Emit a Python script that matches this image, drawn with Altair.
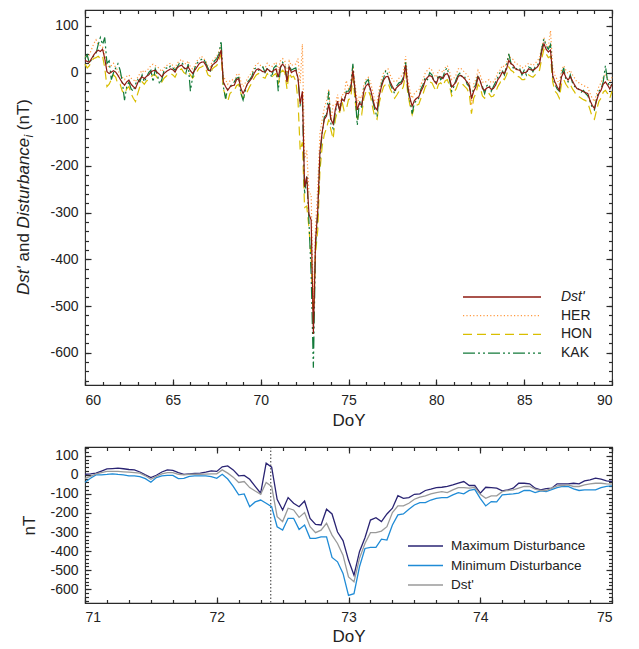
import altair as alt
import pandas as pd

# ---------------- upper panel: 3-hourly samples, DoY 60-90 ----------------
TOP_START = 60.0
TOP_STEP = 0.125

dst_top = [
    26, 24, 22, 30, 38, 44, 48, 45,
    50, 30, 2, -2, 1, 4, 1, -6,
    -14, -22, -27, -20, -16, -25, -30, -34,
    -22, -14, -9, -13, -8, -5, 1, 4,
    5, 0, -4, -9, -2, 2, 5, 8,
    6, 1, 10, 14, 16, 10, 8, 12,
    4, -2, 5, 12, 19, 22, 23, 16,
    5, 4, 16, 20, 24, 34, 48, -20,
    -30, -38, -31, -28, -27, -15, -13, -34,
    -45, -35, -24, -18, -12, -2, 6, 8,
    5, 2, 1, 8, 4, 1, 5, 8,
    -10, 12, 18, 12, -20, 12, 0, 3,
    5, -12, -67, -40, -245, -223, -303, -316,
    -560, -360, -295, -170, -128, -100, -93, -67,
    -100, -110, -79, -61, -82, -56, -61, -44,
    -45, -38, 5, -40, -80, -65, -70, -40,
    -28, -24, -35, -55, -74, -80, -50, -30,
    -16, -9, -8, -20, -30, -38, -32, -27,
    -24, -15, 16, -30, -55, -72, -60, -55,
    -52, -40, -31, -16, -10, -6, -9, -18,
    -24, -10, -9, -13, -4, -2, -12, -31,
    -26, -20, -8, -6, -9, -14, -20, -27,
    -56, -40, -31, -9, -18, -34, -38, -33,
    -31, -36, -34, -27, -15, -9, 1, -2,
    8, 26, 19, 16, 8, 6, 5, -2,
    0, 1, 8, 6, 5, 8, 12, 19,
    45, 62, 50, 44, 48, -6, -20, -30,
    -38, -9, 1, -10, -16, -9, -18, -27,
    -34, -36, -38, -41, -43, -45, -60, -70,
    -77, -60, -45, -38, -25, -20, -27, -35,
    -25,
]

her_top = [
    35, 30, 38, 50, 62, 70, 60, 58,
    55, 40, 15, 12, 15, 20, 10, 5,
    -5, -10, -15, -8, -5, -12, -15, -20,
    -10, -2, 5, 0, 5, 8, 15, 18,
    15, 12, 8, 2, 10, 14, 18, 20,
    15, 10, 20, 25, 28, 22, 18, 25,
    12, 8, 15, 25, 30, 35, 30, 25,
    15, 12, 25, 30, 35, 45, 58, -10,
    -15, -25, -18, -15, -20, -5, -2, -20,
    -30, -22, -12, -5, 0, 10, 18, 20,
    15, 12, 10, 20, 15, 12, 18, 22,
    5, 25, 30, 25, -5, 25, 15, 18,
    18, 30, -23, 61, -184, -167, -260, -260,
    -500, -330, -245, -130, -102, -75, -61, -35,
    -102, -70, -70, -47, -75, -47, -47, -17,
    -35, -25, 15, -25, -65, -50, -55, -25,
    -15, -10, -20, -40, -60, -65, -35, -15,
    0, 5, 8, -5, -15, -20, -18, -12,
    -8, 0, 35, -15, -40, -55, -45, -40,
    -38, -25, -15, 0, 5, 10, 5, -5,
    -10, 5, 5, 0, 10, 15, 2, -15,
    -12, -5, 8, 10, 5, 0, -5, -12,
    -70, -25, -15, 5, -5, -20, -22, -18,
    -15, -22, -20, -12, 0, 5, 15, 12,
    20, 38, 30, 28, 20, 18, 15, 10,
    12, 15, 20, 18, 15, 20, 25, 32,
    55, 75, 60, 55, 90, 10, -5, -15,
    -25, 5, 15, 5, -2, 5, -5, -12,
    -20, -22, -25, -28, -30, -32, -45, -55,
    -62, -45, -30, -22, -10, -5, -12, -20,
    -10,
]

hon_top = [
    18, 10, 15, 25, 30, 32, 35, 30,
    35, 10, -30, -25, -15, -5, -10, -25,
    -25, -40, -45, -35, -30, -45, -55, -62,
    -45, -30, -20, -25, -18, -15, -10, -5,
    -5, -12, -15, -20, -12, -8, -3, -2,
    -5, -10, 0, 5, 8, 0, -3, 2,
    -5, -12, -5, 2, 10, 12, 15, 8,
    -5, -8, 8, 12, 15, 25, 40, -35,
    -50, -62, -45, -40, -38, -28, -25, -45,
    -55, -50, -40, -30, -22, -12, -5, -2,
    -5, -10, -12, -2, -8, -10, -5, -2,
    -25, 0, 5, 0, -35, 0, -10, -8,
    -18, -60, -167, -149, -289, -286, -333, -400,
    -540, -386, -337, -210, -158, -132, -119, -100,
    -123, -142, -100, -82, -85, -61, -82, -79,
    -58, -55, -10, -60, -100, -85, -90, -55,
    -40, -38, -50, -75, -95, -100, -65, -45,
    -30, -25, -22, -35, -45, -55, -48, -40,
    -40, -30, 0, -45, -70, -90, -75, -70,
    -68, -55, -45, -30, -25, -20, -22, -32,
    -40, -25, -22, -28, -18, -15, -28, -50,
    -42, -35, -22, -20, -25, -30, -35, -45,
    -88, -55, -45, -25, -32, -50, -55, -48,
    -45, -52, -50, -42, -30, -22, -12, -15,
    -5, 12, 5, 2, -5, -8, -10, -15,
    -15, -12, -5, -8, -10, -5, 0, 5,
    30, 50, 40, 32, 35, -20, -40, -45,
    -55, -25, -15, -25, -32, -25, -35, -42,
    -50, -52, -55, -58, -60, -65, -80, -95,
    -100, -80, -62, -55, -42, -38, -45, -55,
    -40,
]

kak_top = [
    30, 38, 20, 28, 36, 40, 60, 75,
    60, 75, 20, 25, -15, 0, 10, 19,
    5, -20, -59, -30, -20, -35, -40, -25,
    -15, -20, -5, -20, -10, 0, 5, -20,
    8, -5, -25, -15, 5, 10, 8, 15,
    10, 5, 12, 20, 22, 15, 0, 18,
    -40, -10, 10, 20, 25, 28, 30, 20,
    10, 0, 18, 25, 30, 40, 68, -30,
    -56, -35, -30, -25, -20, -12, -10, -45,
    -59, -40, -20, -15, -8, 8, 10, 5,
    8, 12, 0, 10, 5, -10, 10, 15,
    -40, 10, 22, 15, -15, 15, 5, 8,
    10, -12, -70, -60, -260, -220, -320, -433,
    -632, -370, -300, -180, -130, -95, -90, -40,
    -110, -120, -85, -65, -80, -58, -60, -40,
    -40, -30, 19, -45, -113, -60, -75, -35,
    -20, -15, -40, -60, -80, -95, -45, -25,
    -12, 5, -5, -25, -35, -45, -28, -22,
    -20, -10, 22, -35, -60, -88, -65, -60,
    -55, -35, -25, -10, -15, 0, -5, -20,
    -20, -5, -15, -10, 5, 10, -15, -40,
    -30, -15, -5, 0, -12, -10, -25, -30,
    -50, -35, -25, -5, -20, -30, -45, -28,
    -25, -40, -30, -20, -10, 0, 5, -5,
    15, 40, 20, 10, 12, 5, 8, -5,
    5, -5, 12, 10, 2, 12, 15, 25,
    50, 72, 58, 50, 60, -10, -25, -35,
    -40, -5, 10, -15, -20, -5, -22, -30,
    -30, -38, -42, -38, -45, -50, -62, -75,
    -80, -55, -40, -35, -20, 15, -20, -30,
    -25,
]

# ---------------- lower panel: hourly values, DoY 71-75 ----------------
BOT_START = 71.0
BOT_STEP = 1.0 / 24.0

max_dist = [
    3, 5, 9, 20, 31, 33, 35, 32, 28, 26,
    15, 0, -14, -2, 15, 26, 23, 12, 2, 5,
    8, 9, 14, 21, 18, 42, 47, 26, -5, -3,
    -23, -60, -96, 61, 40, -128, -184, -119, -149, -167,
    -137, -228, -260, -263, -180, -205, -300, -345, -447, -526,
    -403, -330, -237, -225, -245, -205, -175, -109, -123, -119,
    -102, -100, -82, -75, -67, -65, -61, -53, -44, -35,
    -56, -56, -96, -65, -67, -70, -84, -79, -70, -44,
    -44, -47, -70, -79, -72, -70, -47, -47, -47, -44,
    -47, -32, -26, -17, -23, -32, -35,
]

min_dist = [
    -39, -18, 0, 0, 2, 5, 2, 0, -5, -5,
    -9, -20, -39, -14, -5, -3, -3, -20, -18, -8,
    -5, -5, -5, -9, -18, 3, -22, -60, -105, -100,
    -167, -142, -132, -149, -167, -272, -289, -228, -228, -286,
    -263, -333, -333, -325, -325, -433, -456, -517, -632, -623,
    -482, -386, -380, -380, -337, -342, -263, -210, -205, -181,
    -158, -146, -146, -132, -123, -119, -119, -105, -93, -100,
    -82, -76, -123, -163, -140, -142, -105, -102, -100, -96,
    -82, -82, -93, -84, -88, -78, -67, -61, -61, -74,
    -82, -79, -79, -79, -67, -61, -58,
]

dst_bot = [
    -18, -8, 5, 12, 18, 18, 18, 16, 14, 12,
    9, -5, -23, -8, 5, 12, 12, 3, 0, 3,
    3, 3, 4, 5, 5, 26, 9, -12, -40, -35,
    -67, -85, -102, -40, -61, -219, -245, -175, -184, -223,
    -198, -272, -303, -290, -254, -316, -360, -421, -535, -561,
    -438, -360, -303, -303, -295, -272, -198, -163, -163, -149,
    -128, -117, -110, -100, -93, -88, -93, -79, -67, -67,
    -70, -66, -102, -123, -110, -110, -88, -82, -79, -70,
    -61, -61, -75, -82, -82, -70, -58, -56, -53, -61,
    -61, -53, -47, -44, -44, -47, -49,
]

SC_DOY = 72.41  # dotted marker line in lower panel

top_series = ["Dst'", "HER", "HON", "KAK"]
top_colors = ["#8E1B12", "#FF9A40", "#D9BE00", "#137A3A"]
top_dashes = [[1, 0], [1.2, 2.2], [9, 5], [12, 3, 2, 3, 2, 3]]

bot_series = ["Maximum Disturbance", "Minimum Disturbance", "Dst'"]
bot_colors = ["#2A2473", "#1F8BD6", "#9A9A9A"]
bot_widths = [1.3, 1.3, 2.2]

TXT = "#222222"
AXC = "#2a2a2a"
W = 527
H_TOP = 375
H_BOT = 156

# ---------------- tables ----------------
doy_top = [round(TOP_START + i * TOP_STEP, 4) for i in range(len(dst_top))]
draw_order_top = [("HON", hon_top), ("HER", her_top), ("KAK", kak_top), ("Dst'", dst_top)]
df_top = pd.concat(
    [pd.DataFrame({"doy": doy_top, "value": vals, "series": name}) for name, vals in draw_order_top],
    ignore_index=True,
)

doy_bot = [round(BOT_START + i * BOT_STEP, 5) for i in range(len(dst_bot))]
draw_order_bot = [("Minimum Disturbance", min_dist), ("Maximum Disturbance", max_dist), ("Dst'", dst_bot)]
df_bot = pd.concat(
    [pd.DataFrame({"doy": doy_bot, "value": vals, "series": name}) for name, vals in draw_order_bot],
    ignore_index=True,
)

xs_top = alt.Scale(domain=[60, 90], nice=False, zero=False)
ys_top = alt.Scale(domain=[-669, 134], nice=False, zero=False)
xs_bot = alt.Scale(domain=[71, 75], nice=False, zero=False)
ys_bot = alt.Scale(domain=[-672, 146], nice=False, zero=False)

HYPHEN = "'' + datum.value"


def tick_axis(orient, offset, values, size):
    return alt.Axis(orient=orient, offset=offset, values=values, ticks=True, tickSize=size,
                    tickColor=AXC, tickWidth=1.2, labels=False, domain=False, grid=False, title=None)


def ghost(data, xs, ys, xaxis=None, yaxis=None):
    return alt.Chart(data).mark_point(opacity=0, size=1).encode(
        x=alt.X("doy:Q", scale=xs, axis=xaxis),
        y=alt.Y("value:Q", scale=ys, axis=yaxis),
    )


def title_axis(text, ty, tx, italic, size, align="left"):
    return alt.Axis(orient="left", ticks=False, labels=False, domain=False, grid=False,
                    title=text, titleX=tx, titleY=ty, titleAngle=270, titleAlign=align,
                    titleBaseline="alphabetic", titleFontSize=size,
                    titleFontStyle="italic" if italic else "normal",
                    titleFontWeight="normal", titleColor=TXT)


def tick_layers(data, xs, ys, w, h, x_major, x_minor, y_major, y_minor):
    return [
        ghost(data, xs, ys, tick_axis("top", -h, x_minor, 3.5), tick_axis("right", -w, y_minor, 3.5)),
        ghost(data, xs, ys, tick_axis("top", -h, x_major, 6), tick_axis("right", -w, y_major, 6)),
        ghost(data, xs, ys, tick_axis("bottom", -h, x_minor, 3.5), tick_axis("left", -w, y_minor, 3.5)),
        ghost(data, xs, ys, tick_axis("bottom", -h, x_major, 6), tick_axis("left", -w, y_major, 6)),
    ]


# ---------------- upper panel ----------------
leg_top = alt.Legend(orient="none", legendX=377, legendY=280, title=None, symbolType="stroke",
                     symbolSize=6084, symbolStrokeWidth=1.3, clipHeight=14, labelOffset=19,
                     rowPadding=4.7, padding=0, labelFontSize=14, labelColor=TXT, labelLimit=300,
                     labelFontStyle={"expr": "datum.index === 0 ? 'italic' : 'normal'"})

lines_top = alt.Chart(df_top).mark_line(strokeWidth=1.2).encode(
    x=alt.X("doy:Q", scale=xs_top,
            axis=alt.Axis(orient="bottom", values=list(range(60, 91, 5)), labelExpr=HYPHEN,
                          ticks=False, tickSize=0, domain=False, grid=False, labelPadding=8,
                          labelFontSize=14, labelColor=TXT, title="DoY", titleFontSize=17,
                          titleFontWeight="normal", titlePadding=5, titleColor=TXT)),
    y=alt.Y("value:Q", scale=ys_top,
            axis=alt.Axis(orient="left", values=list(range(-600, 101, 100)), labelExpr=HYPHEN,
                          ticks=False, tickSize=0, domain=False, grid=False, labelPadding=7,
                          labelFontSize=14, labelColor=TXT, title=None)),
    color=alt.Color("series:N", scale=alt.Scale(domain=top_series, range=top_colors), legend=leg_top),
    strokeDash=alt.StrokeDash("series:N", scale=alt.Scale(domain=top_series, range=top_dashes),
                              legend=leg_top),
)

one_top = df_top.head(1)
top_ticks = tick_layers(one_top, xs_top, ys_top, W, H_TOP,
                        list(range(60, 91, 5)), list(range(60, 91)),
                        list(range(-600, 101, 100)), list(range(-660, 121, 20)))

TX = -57
top_titles = [
    ghost(one_top, xs_top, ys_top, None, title_axis("Dst'", 284.5, TX, True, 17)),
    ghost(one_top, xs_top, ys_top, None, title_axis("and", 251.0, TX, False, 17)),
    ghost(one_top, xs_top, ys_top, None, title_axis("Disturbance", 217.9, TX, True, 17)),
    ghost(one_top, xs_top, ys_top, None, title_axis("i", 127.0, TX + 4, True, 12)),
    ghost(one_top, xs_top, ys_top, None, title_axis("(nT)", 119.7, TX, False, 17)),
]

top = alt.layer(lines_top, *top_ticks, *top_titles).resolve_axis(
    x="independent", y="independent").properties(width=W, height=H_TOP)

# ---------------- lower panel ----------------
leg_bot = alt.Legend(orient="none", legendX=322, legendY=92, title=None, symbolType="stroke",
                     symbolSize=1225, symbolStrokeWidth=1.5, clipHeight=14, labelOffset=7,
                     rowPadding=5.5, padding=0, labelFontSize=13.5, labelColor=TXT, labelLimit=300)

lines_bot = alt.Chart(df_bot).mark_line().encode(
    x=alt.X("doy:Q", scale=xs_bot,
            axis=alt.Axis(orient="bottom", values=[71, 72, 73, 74, 75], labelExpr=HYPHEN,
                          ticks=False, tickSize=0, domain=False, grid=False, labelPadding=7,
                          labelFontSize=14, labelColor=TXT, title="DoY", titleFontSize=17,
                          titleFontWeight="normal", titlePadding=4, titleColor=TXT)),
    y=alt.Y("value:Q", scale=ys_bot,
            axis=alt.Axis(orient="left", values=list(range(-600, 101, 100)), labelExpr=HYPHEN,
                          ticks=False, tickSize=0, domain=False, grid=False, labelPadding=7,
                          labelFontSize=14, labelColor=TXT, title=None)),
    color=alt.Color("series:N", scale=alt.Scale(domain=bot_series, range=bot_colors), legend=leg_bot),
    strokeWidth=alt.StrokeWidth("series:N", scale=alt.Scale(domain=bot_series, range=bot_widths),
                                legend=None),
)

sc_rule = alt.Chart(pd.DataFrame({"doy": [SC_DOY]})).mark_rule(
    strokeDash=[1.5, 2], color="#333333", strokeWidth=1).encode(
    x=alt.X("doy:Q", scale=xs_bot, axis=None))

one_bot = df_bot.head(1)
bot_minor_x = [round(71 + k / 6.0, 5) for k in range(25)]
bot_ticks = tick_layers(one_bot, xs_bot, ys_bot, W, H_BOT,
                        [71, 72, 73, 74, 75], bot_minor_x,
                        list(range(-600, 101, 100)), list(range(-660, 141, 20)))
bot_title = ghost(one_bot, xs_bot, ys_bot, None, title_axis("nT", H_BOT / 2, -51, False, 17, "center"))

bottom = alt.layer(sc_rule, lines_bot, *bot_ticks, bot_title).resolve_axis(
    x="independent", y="independent").properties(width=W, height=H_BOT)

chart = alt.vconcat(top, bottom, spacing=16).resolve_scale(
    color="independent", strokeDash="independent", strokeWidth="independent"
).resolve_legend(
    color="independent", strokeDash="independent", strokeWidth="independent"
).properties(
    padding={"left": 5, "top": 0, "right": 5, "bottom": 0}
).configure(font="Liberation Sans").configure_view(stroke=AXC, strokeWidth=1.1)

chart.save("out.html", embed_options={"renderer": "svg", "actions": False})
